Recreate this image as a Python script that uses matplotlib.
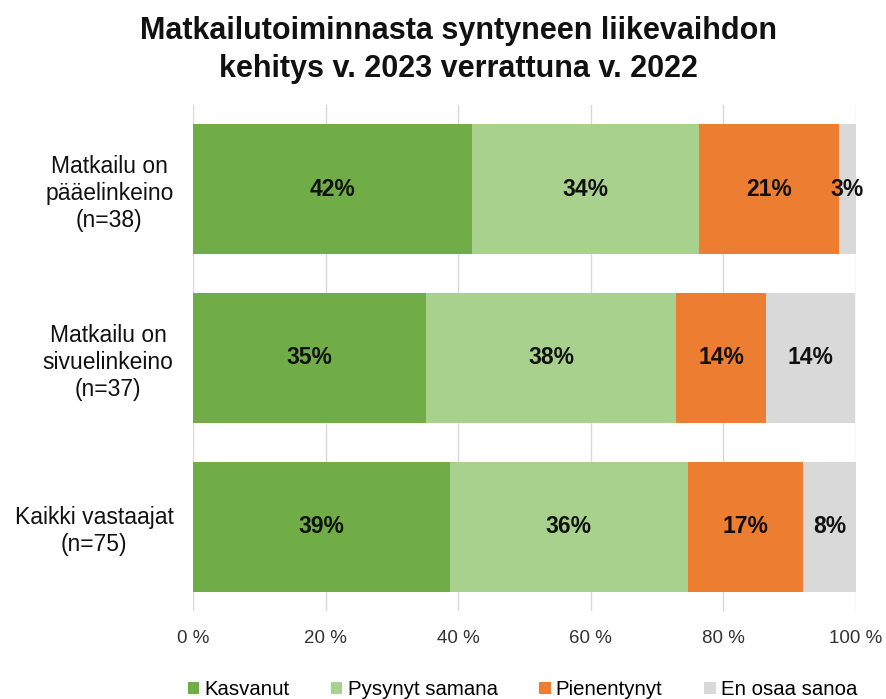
import matplotlib
matplotlib.use("Agg")
import matplotlib.pyplot as plt
import numpy as np

plt.rcParams['font.family'] = ['Liberation Sans', 'DejaVu Sans']

categories = ["Matkailu on\npääelinkeino\n(n=38)",
              "Matkailu on\nsivuelinkeino\n(n=37)",
              "Kaikki vastaajat\n(n=75)"]
series_names = ["Kasvanut", "Pysynyt samana", "Pienentynyt", "En osaa sanoa"]
kasvanut = [42.1, 35.1, 38.7]
pysynyt = [34.2, 37.8, 36.0]
pienentynyt = [21.1, 13.5, 17.3]
en_osaa = [2.6, 13.5, 8.0]
labels = [["42%", "35%", "39%"],
          ["34%", "38%", "36%"],
          ["21%", "14%", "17%"],
          ["3%", "14%", "8%"]]
xticklabels = ["0 %", "20 %", "40 %", "60 %", "80 %", "100 %"]
title = "Matkailutoiminnasta syntyneen liikevaihdon\nkehitys v. 2023 verrattuna v. 2022"

colors = ["#70AD47", "#A9D18E", "#ED7D31", "#D9D9D9"]

fig = plt.figure(figsize=(8.86, 6.99), dpi=100)
ax = fig.add_axes([193/886, 1-611/699, (856-193)/886, (611-105)/699])

y = np.arange(len(categories))
left = np.zeros(len(categories))
data = [kasvanut, pysynyt, pienentynyt, en_osaa]
for i, (vals, name, col) in enumerate(zip(data, series_names, colors)):
    vals = np.array(vals)
    ax.barh(y, vals, left=left, height=0.77, color=col, label=name, zorder=3)
    for j in range(len(categories)):
        ax.text(left[j] + vals[j] / 2, y[j], labels[i][j], ha="center", va="center",
                fontsize=16.5, fontweight="bold", color="#111111", zorder=4)
    left += vals

ax.set_xlim(0, 100)
ax.set_ylim(2.5, -0.5)
ax.set_xticks(np.arange(0, 101, 20))
ax.set_xticklabels(xticklabels, fontsize=13.5, color="#333333")
ax.set_yticks(y)
ax.set_yticklabels(categories, fontsize=16.5, color="#111111", linespacing=1.22)
ax.tick_params(axis="x", length=0, pad=14)
ax.tick_params(axis="y", length=0, pad=14)
for lab in ax.get_yticklabels():
    lab.set_horizontalalignment("right")
    lab.set_multialignment("center")
for s in ax.spines.values():
    s.set_visible(False)
ax.grid(axis="x", color="#D9D9D9", linewidth=1, zorder=0)

fig.text(0.517, 1-50/699, title, ha="center", va="center", fontsize=22,
         fontweight="bold", linespacing=1.33, color="#111111")

leg = ax.legend(loc="center", bbox_to_anchor=(0.497, -0.155), ncol=4, frameon=False,
                fontsize=14.7, handlelength=0.55, handleheight=0.55, handletextpad=0.25,
                columnspacing=2.05)
fig.savefig("out.png", dpi=100)
